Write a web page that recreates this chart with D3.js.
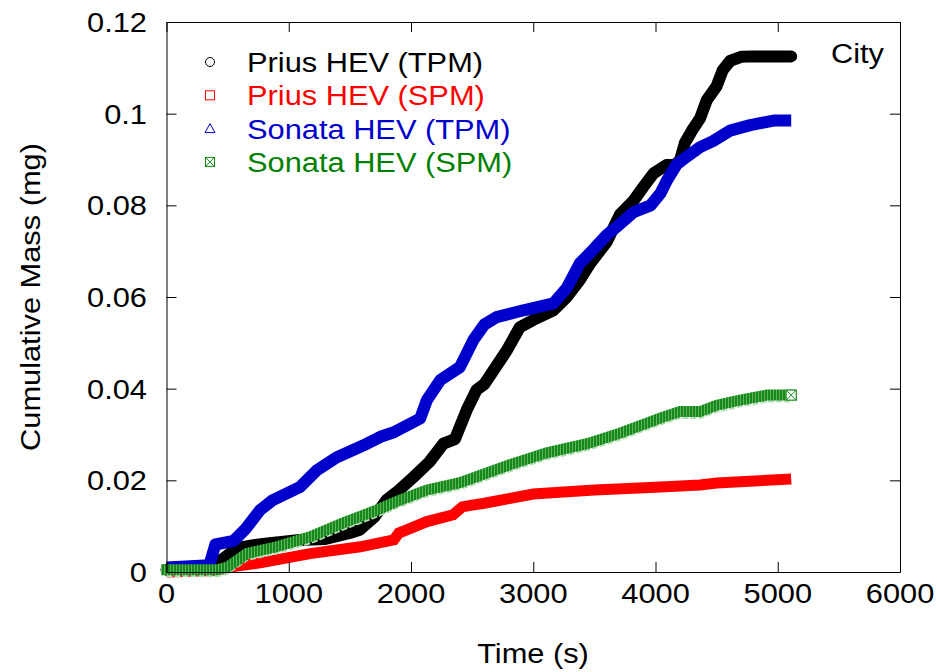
<!DOCTYPE html>
<html>
<head>
<meta charset="utf-8">
<script src="https://cdn.jsdelivr.net/npm/d3@7"></script>
<style>
  body { margin: 0; background: #fff; }
  text { font-family: "Liberation Sans", Arial, sans-serif; }
</style>
</head>
<body>
<script>
// values (time in s, cumulative mass in mg)
var blackT = [0, 300, 400, 450, 575, 700, 845, 1090, 1300, 1500, 1580, 1700, 1800, 1900, 2020, 2150, 2265, 2360, 2455, 2535, 2600, 2675, 2785, 2890, 3000, 3165, 3275, 3380, 3465, 3600, 3710, 3820, 3900, 3985, 4090, 4160, 4200, 4240, 4300, 4365, 4420, 4500, 4550, 4610, 4700, 4800, 5110];
var blackV = [0.0005, 0.0005, 0.001, 0.0026, 0.0052, 0.0058, 0.0063, 0.007, 0.0072, 0.0085, 0.0092, 0.012, 0.0157, 0.0178, 0.0207, 0.024, 0.028, 0.029, 0.0353, 0.0397, 0.041, 0.044, 0.0484, 0.0534, 0.055, 0.0571, 0.06, 0.0637, 0.0673, 0.072, 0.078, 0.081, 0.084, 0.087, 0.0888, 0.0888, 0.0898, 0.0936, 0.0964, 0.099, 0.103, 0.106, 0.1095, 0.1115, 0.1124, 0.1125, 0.1125];

var redT = [0, 400, 495, 765, 1175, 1585, 1860, 1900, 1965, 2130, 2345, 2420, 2500, 2600, 2800, 3000, 3500, 4000, 4365, 4500, 5110];
var redV = [0, 0.0003, 0.001, 0.002, 0.004, 0.0055, 0.007, 0.0085, 0.0092, 0.011, 0.0125, 0.0142, 0.0146, 0.015, 0.016, 0.017, 0.0179, 0.0185, 0.019, 0.0194, 0.0203];

var blueT = [0, 350, 400, 550, 650, 765, 870, 1090, 1230, 1390, 1640, 1750, 1860, 2075, 2130, 2240, 2400, 2510, 2600, 2700, 2920, 3165, 3275, 3380, 3500, 3600, 3700, 3820, 3960, 4040, 4095, 4175, 4250, 4365, 4470, 4610, 4775, 4965, 5110];
var blueV = [0.001, 0.0015, 0.006, 0.0068, 0.0095, 0.0135, 0.0157, 0.0185, 0.0222, 0.025, 0.028, 0.0295, 0.0305, 0.0335, 0.0375, 0.0419, 0.0447, 0.0506, 0.054, 0.0556, 0.0571, 0.0586, 0.062, 0.0673, 0.0706, 0.0735, 0.0757, 0.0785, 0.080, 0.0826, 0.0855, 0.089, 0.0905, 0.0927, 0.094, 0.0963, 0.0975, 0.0985, 0.0985];

var greenT = [0, 420, 495, 655, 900, 1175, 1445, 1720, 1910, 2130, 2400, 2840, 3110, 3440, 3710, 4060, 4200, 4365, 4500, 4690, 4910, 5110];
var greenV = [0.0005, 0.0005, 0.001, 0.004, 0.0055, 0.0077, 0.0107, 0.0135, 0.0157, 0.0179, 0.0195, 0.0237, 0.026, 0.028, 0.0303, 0.0338, 0.035, 0.035, 0.0364, 0.0375, 0.0386, 0.0386];

var seriesNames = ["Prius HEV (TPM)", "Prius HEV (SPM)", "Sonata HEV (TPM)", "Sonata HEV (SPM)"];
var xTicks = [0, 1000, 2000, 3000, 4000, 5000, 6000];
var yTicks = [0, 0.02, 0.04, 0.06, 0.08, 0.1, 0.12];

var W = 937, H = 672;
var margin = {left: 166.5, right: 900, top: 22, bottom: 572};
var fontSize = 28, stretch = 1.1;

var svg = d3.select("body").append("svg").attr("width", W).attr("height", H);

var xScale = d3.scaleLinear().domain([0, 6000]).range([margin.left, margin.right]);
var yScale = d3.scaleLinear().domain([0, 0.12]).range([margin.bottom, margin.top]);

// stripes for the green band
var defs = svg.append("defs");
var pat = defs.append("pattern").attr("id", "gstripe")
    .attr("patternUnits", "userSpaceOnUse").attr("width", 3).attr("height", 12);
pat.append("rect").attr("width", 3).attr("height", 12).attr("fill", "#13891a");
pat.append("rect").attr("x", 2).attr("width", 1).attr("height", 12).attr("fill", "#62b262");

// helper for slightly wide text
function label(g, px, py, str, anchor, color, rot) {
  return g.append("text")
    .attr("transform", "translate(" + px + "," + py + ")" + (rot ? "rotate(" + rot + ")" : "") + "scale(" + stretch + ",1)")
    .attr("text-anchor", anchor)
    .attr("font-size", fontSize)
    .attr("fill", color || "#000")
    .text(str);
}

// lines
var line = d3.line()
    .x(function(d) { return xScale(d[0]); })
    .y(function(d) { return yScale(d[1]); });

function zipped(ts, vs) { return ts.map(function(t, i) { return [t, vs[i]]; }); }

var plot = svg.append("g");

plot.append("path").datum(zipped(blackT, blackV))
    .attr("d", line).attr("fill", "none").attr("stroke", "#000")
    .attr("stroke-width", 12).attr("stroke-linejoin", "round").attr("stroke-linecap", "round");

plot.append("path").datum(zipped(redT, redV))
    .attr("d", line).attr("fill", "none").attr("stroke", "#ff0000")
    .attr("stroke-width", 11).attr("stroke-linejoin", "miter");

plot.append("path").datum(zipped(blueT, blueV))
    .attr("d", line).attr("fill", "none").attr("stroke", "#0000cc")
    .attr("stroke-width", 12).attr("stroke-linejoin", "round");

var greenData = zipped(greenT, greenV);
plot.append("path").datum(greenData)
    .attr("d", line).attr("fill", "none").attr("stroke", "#b3deb3")
    .attr("stroke-width", 5).attr("stroke-dasharray", "6,2").attr("transform", "translate(0,5)");
plot.append("path").datum(greenData)
    .attr("d", line).attr("fill", "none").attr("stroke", "url(#gstripe)")
    .attr("stroke-width", 11).attr("stroke-linecap", "square");

// end marker of green series
var last = greenData[greenData.length - 1];
var gx = xScale(last[0]), gy = yScale(last[1]);
plot.append("rect").attr("x", gx - 5).attr("y", gy - 5).attr("width", 10).attr("height", 10)
    .attr("fill", "#fff").attr("stroke", "#13891a").attr("stroke-width", 1);
plot.append("path").attr("d", "M" + (gx - 5) + "," + (gy - 5) + "L" + (gx + 5) + "," + (gy + 5) + "M" + (gx + 5) + "," + (gy - 5) + "L" + (gx - 5) + "," + (gy + 5))
    .attr("stroke", "#13891a").attr("stroke-width", 1);

// frame with inner ticks on all sides
var axes = svg.append("g").attr("stroke-width", 1);
axes.append("g").attr("transform", "translate(0," + margin.bottom + ")")
    .call(d3.axisBottom(xScale).tickValues(xTicks).tickSize(-10).tickSizeOuter(0).tickFormat(""));
axes.append("g").attr("transform", "translate(0," + margin.top + ")")
    .call(d3.axisTop(xScale).tickValues(xTicks).tickSize(-10).tickSizeOuter(0).tickFormat(""));
axes.append("g").attr("transform", "translate(" + margin.left + ",0)")
    .call(d3.axisLeft(yScale).tickValues(yTicks).tickSize(-10).tickSizeOuter(0).tickFormat(""));
axes.append("g").attr("transform", "translate(" + margin.right + ",0)")
    .call(d3.axisRight(yScale).tickValues(yTicks).tickSize(-10).tickSizeOuter(0).tickFormat(""));

// tick labels
xTicks.forEach(function(t) { label(svg, xScale(t), 603, String(t), "middle"); });
yTicks.forEach(function(t) { label(svg, 147, yScale(t) + 10, String(+t.toFixed(2)), "end"); });

// axis titles
label(svg, 533, 663, "Time (s)", "middle");
label(svg, 40, 297, "Cumulative Mass (mg)", "middle", "#000", -90);
label(svg, 884, 63, "City", "end");

// legend
var colors = ["#000000", "#ff0000", "#0000cc", "#008000"];
var legend = svg.append("g");
seriesNames.forEach(function(name, i) {
  var ly = 62 + i * 33.3;
  var c = colors[i];
  if (i === 0) {
    legend.append("circle").attr("cx", 210).attr("cy", ly).attr("r", 4.5).attr("fill", "none").attr("stroke", c);
  } else if (i === 1) {
    legend.append("rect").attr("x", 205.5).attr("y", ly - 4.5).attr("width", 9).attr("height", 9).attr("fill", "none").attr("stroke", c);
  } else if (i === 2) {
    legend.append("path").attr("d", "M210," + (ly - 5) + "L215," + (ly + 4) + "L205," + (ly + 4) + "Z").attr("fill", "none").attr("stroke", c);
  } else {
    legend.append("rect").attr("x", 205.5).attr("y", ly - 4.5).attr("width", 9).attr("height", 9).attr("fill", "none").attr("stroke", "#13891a");
    legend.append("path").attr("d", "M205.5," + (ly - 4.5) + "L214.5," + (ly + 4.5) + "M214.5," + (ly - 4.5) + "L205.5," + (ly + 4.5)).attr("stroke", "#13891a");
  }
  label(legend, 247, ly + 10, name, "start", c);
});
</script>
</body>
</html>
